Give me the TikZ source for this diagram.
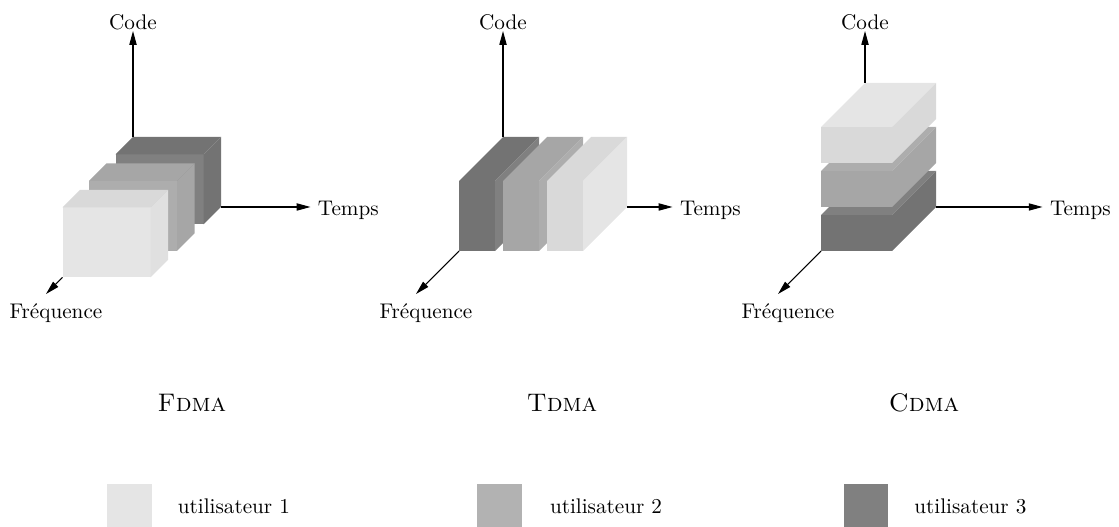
\documentclass[tikz,border=0pt]{standalone}
\usepackage{tikz}
\usetikzlibrary{positioning,arrows.meta}

% grey levels of the three users
\definecolor{lightA}{gray}{0.90}
\definecolor{lightB}{gray}{0.85}
\definecolor{lightC}{gray}{0.88}
\definecolor{midA}{gray}{0.68}
\definecolor{midB}{gray}{0.65}
\definecolor{darkA}{gray}{0.50}
\definecolor{darkB}{gray}{0.45}
\definecolor{legA}{gray}{0.90}
\definecolor{legB}{gray}{0.70}
\definecolor{legC}{gray}{0.50}

% block: t0 t1 c0 c1 f0 f1 front top side
\newcommand{\cuboid}[9]{%
	\fill[#7] (#1,#3,#6) -- (#2,#3,#6) -- (#2,#4,#6) -- (#1,#4,#6) -- cycle;
	\fill[#8] (#1,#4,#6) -- (#2,#4,#6) -- (#2,#4,#5) -- (#1,#4,#5) -- cycle;
	\fill[#9] (#2,#3,#6) -- (#2,#3,#5) -- (#2,#4,#5) -- (#2,#4,#6) -- cycle;
}

\begin{document}
\begin{tikzpicture}[x={(0.472pt,0pt)}, y={(0pt,0.472pt)}, z={(-0.472pt,-0.472pt)},
	axis/.style={line width=0.5pt, -{Triangle[length=6.5pt,width=3.4pt]}},
	codelabel/.style={above, inner sep=0.5pt},
	timelabel/.style={anchor=west, yshift=-1.4pt},
	freqlabel/.style={anchor=base, xshift=4.7pt, yshift=-11.8pt},
	title/.style={anchor=base, font=\large},
	legbox/.style={minimum size=21.2pt, inner sep=0pt}]
	\useasboundingbox (0,0) rectangle (1119,-527);

	% FDMA
	\begin{scope}[shift={(133,-207)}]
		\cuboid{0}{88}{0}{70}{0}{17.5}{darkA}{darkB}{darkB}
		\cuboid{0}{88}{0}{70}{26.5}{44}{midA}{midB}{midB}
		\cuboid{0}{88}{0}{70}{53}{70.5}{lightA}{lightB}{lightC}
		\coordinate (c1start) at (0,70,0);
		\coordinate (t1start) at (88,0,0);
		\coordinate (f1start) at (0,0,70.5);
		\coordinate (f1end) at (0,0,87);
		\node[codelabel] (code1) at (0,176,0) {Code};
		\node[timelabel] (temps1) at (177.5,0,0) {Temps};
		\node[freqlabel] (freq1) at (f1end) {Fr\'equence};
		\draw[axis] (c1start) -- (code1);
		\draw[axis] (t1start) -- (t1start -| temps1.west);
		\draw[axis] (f1start) -- (f1end);
	\end{scope}

	% TDMA
	\begin{scope}[shift={(503,-207)}]
		\cuboid{0}{36}{0}{70}{0}{44}{darkB}{darkB}{darkA}
		\cuboid{44}{80}{0}{70}{0}{44}{midB}{midB}{midA}
		\cuboid{88}{124}{0}{70}{0}{44}{lightB}{lightB}{lightA}
		\coordinate (c2start) at (0,70,0);
		\coordinate (t2start) at (124,0,0);
		\coordinate (f2start) at (0,0,44);
		\coordinate (f2end) at (0,0,87);
		\node[codelabel] (code2) at (0,176,0) {Code};
		\node[timelabel] (temps2) at (169.5,0,0) {Temps};
		\node[freqlabel] (freq2) at (f2end) {Fr\'equence};
		\draw[axis] (c2start) -- (code2);
		\draw[axis] (t2start) -- (t2start -| temps2.west);
		\draw[axis] (f2start) -- (f2end);
	\end{scope}

	% CDMA
	\begin{scope}[shift={(865,-207)}]
		\cuboid{0}{71}{0}{36}{0}{44}{darkB}{darkA}{darkB}
		\cuboid{0}{71}{44}{80}{0}{44}{midB}{midA}{midB}
		\cuboid{0}{71}{88}{124}{0}{44}{lightB}{lightA}{lightB}
		\coordinate (c3start) at (0,124,0);
		\coordinate (t3start) at (71,0,0);
		\coordinate (f3start) at (0,0,44);
		\coordinate (f3end) at (0,0,87);
		\node[codelabel] (code3) at (0,176,0) {Code};
		\node[timelabel] (temps3) at (177.5,0,0) {Temps};
		\node[freqlabel] (freq3) at (f3end) {Fr\'equence};
		\draw[axis] (c3start) -- (code3);
		\draw[axis] (t3start) -- (t3start -| temps3.west);
		\draw[axis] (f3start) -- (f3end);
	\end{scope}

	% titles
	\node[title] (fdma) at (192,-412) {\textsc{Fdma}};
	\node[title] (tdma) at (562,-412) {\textsc{Tdma}};
	\node[title] (cdma) at (924,-412) {\textsc{Cdma}};

	% legend
	\node[legbox, fill=legA] (leg1) at (129.5,-506.5) {};
	\node[right=8.5pt of leg1] (user1) {utilisateur 1};
	\node[legbox, fill=legB] (leg2) at (499.5,-506.5) {};
	\node[right=9.5pt of leg2] (user2) {utilisateur 2};
	\node[legbox, fill=legC] (leg3) at (866,-506.5) {};
	\node[right=8.5pt of leg3] (user3) {utilisateur 3};
\end{tikzpicture}
\end{document}
